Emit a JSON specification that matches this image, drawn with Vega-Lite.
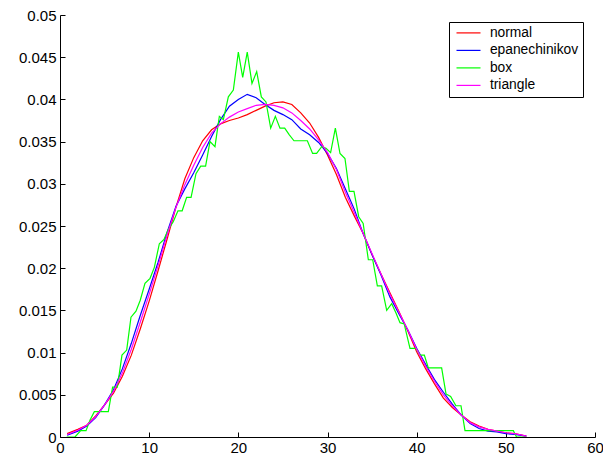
{
  "$schema": "https://vega.github.io/schema/vega-lite/v6.json",
  "width": 535,
  "height": 422,
  "autosize": "none",
  "padding": {"left": 60, "top": 15, "right": 8, "bottom": 22},
  "background": "white",
  "config": {
    "view": {"stroke": null},
    "axis": {
      "domainColor": "black", "tickColor": "black", "labelColor": "black",
      "labelFont": "Liberation Sans", "labelFontSize": 15, "grid": false,
      "tickSize": -5, "domainWidth": 1, "tickWidth": 1, "title": null
    }
  },
  "data": {"values": [
    {"kernel":"normal","x":0.8,"y":0.0004},{"kernel":"normal","x":2,"y":0.0009},{"kernel":"normal","x":3,"y":0.0014},{"kernel":"normal","x":4,"y":0.0025},{"kernel":"normal","x":5,"y":0.0038},{"kernel":"normal","x":6,"y":0.0052},{"kernel":"normal","x":7,"y":0.0072},{"kernel":"normal","x":8,"y":0.0097},{"kernel":"normal","x":9,"y":0.0128},{"kernel":"normal","x":10,"y":0.0161},{"kernel":"normal","x":11,"y":0.0197},{"kernel":"normal","x":12,"y":0.0234},{"kernel":"normal","x":13,"y":0.0272},{"kernel":"normal","x":14,"y":0.0306},{"kernel":"normal","x":15,"y":0.0331},{"kernel":"normal","x":16,"y":0.0351},{"kernel":"normal","x":17,"y":0.0364},{"kernel":"normal","x":18,"y":0.0371},{"kernel":"normal","x":19,"y":0.0375},{"kernel":"normal","x":20,"y":0.0378},{"kernel":"normal","x":21,"y":0.0382},{"kernel":"normal","x":22,"y":0.0387},{"kernel":"normal","x":23,"y":0.0392},{"kernel":"normal","x":24,"y":0.0396},{"kernel":"normal","x":25,"y":0.0397},{"kernel":"normal","x":26,"y":0.0394},{"kernel":"normal","x":27,"y":0.0384},{"kernel":"normal","x":28,"y":0.0372},{"kernel":"normal","x":29,"y":0.0355},{"kernel":"normal","x":30,"y":0.0334},{"kernel":"normal","x":31,"y":0.0311},{"kernel":"normal","x":32,"y":0.0284},{"kernel":"normal","x":33,"y":0.0262},{"kernel":"normal","x":34,"y":0.0241},{"kernel":"normal","x":35,"y":0.0216},{"kernel":"normal","x":36,"y":0.0193},{"kernel":"normal","x":37,"y":0.0171},{"kernel":"normal","x":38,"y":0.0149},{"kernel":"normal","x":39,"y":0.0126},{"kernel":"normal","x":40,"y":0.0101},{"kernel":"normal","x":41,"y":0.0081},{"kernel":"normal","x":42,"y":0.0063},{"kernel":"normal","x":43,"y":0.0046},{"kernel":"normal","x":44,"y":0.0035},{"kernel":"normal","x":45,"y":0.0026},{"kernel":"normal","x":46,"y":0.0018},{"kernel":"normal","x":47,"y":0.0013},{"kernel":"normal","x":48,"y":0.0009},{"kernel":"normal","x":49,"y":0.0007},{"kernel":"normal","x":50,"y":0.0005},{"kernel":"normal","x":51,"y":0.0004},{"kernel":"normal","x":52.3,"y":0.0001},

    {"kernel":"epanechinikov","x":0.8,"y":0.0002},{"kernel":"epanechinikov","x":2,"y":0.0007},{"kernel":"epanechinikov","x":3,"y":0.0013},{"kernel":"epanechinikov","x":4,"y":0.0023},{"kernel":"epanechinikov","x":5,"y":0.0038},{"kernel":"epanechinikov","x":6,"y":0.0056},{"kernel":"epanechinikov","x":7,"y":0.0081},{"kernel":"epanechinikov","x":8,"y":0.0111},{"kernel":"epanechinikov","x":9,"y":0.0144},{"kernel":"epanechinikov","x":10,"y":0.0175},{"kernel":"epanechinikov","x":11,"y":0.0207},{"kernel":"epanechinikov","x":12,"y":0.0242},{"kernel":"epanechinikov","x":13,"y":0.0273},{"kernel":"epanechinikov","x":14,"y":0.0294},{"kernel":"epanechinikov","x":15,"y":0.0313},{"kernel":"epanechinikov","x":16,"y":0.0334},{"kernel":"epanechinikov","x":17,"y":0.0356},{"kernel":"epanechinikov","x":18,"y":0.0376},{"kernel":"epanechinikov","x":19,"y":0.0392},{"kernel":"epanechinikov","x":20,"y":0.0400},{"kernel":"epanechinikov","x":21,"y":0.0406},{"kernel":"epanechinikov","x":22,"y":0.0402},{"kernel":"epanechinikov","x":23,"y":0.0394},{"kernel":"epanechinikov","x":24,"y":0.0387},{"kernel":"epanechinikov","x":25,"y":0.0382},{"kernel":"epanechinikov","x":26,"y":0.0376},{"kernel":"epanechinikov","x":27,"y":0.0365},{"kernel":"epanechinikov","x":28,"y":0.0358},{"kernel":"epanechinikov","x":29,"y":0.0349},{"kernel":"epanechinikov","x":30,"y":0.0336},{"kernel":"epanechinikov","x":31,"y":0.0318},{"kernel":"epanechinikov","x":32,"y":0.0294},{"kernel":"epanechinikov","x":33,"y":0.0270},{"kernel":"epanechinikov","x":34,"y":0.0241},{"kernel":"epanechinikov","x":35,"y":0.0216},{"kernel":"epanechinikov","x":36,"y":0.0192},{"kernel":"epanechinikov","x":37,"y":0.0166},{"kernel":"epanechinikov","x":38,"y":0.0146},{"kernel":"epanechinikov","x":39,"y":0.0127},{"kernel":"epanechinikov","x":40,"y":0.0105},{"kernel":"epanechinikov","x":41,"y":0.0086},{"kernel":"epanechinikov","x":42,"y":0.0068},{"kernel":"epanechinikov","x":43,"y":0.0053},{"kernel":"epanechinikov","x":44,"y":0.0039},{"kernel":"epanechinikov","x":45,"y":0.0026},{"kernel":"epanechinikov","x":46,"y":0.0016},{"kernel":"epanechinikov","x":47,"y":0.0010},{"kernel":"epanechinikov","x":48,"y":0.0007},{"kernel":"epanechinikov","x":49,"y":0.0006},{"kernel":"epanechinikov","x":50,"y":0.0004},{"kernel":"epanechinikov","x":51,"y":0.0003},{"kernel":"epanechinikov","x":52.3,"y":0.0001},

    {"kernel":"box","x":0.75,"y":0},{"kernel":"box","x":1.68,"y":0},{"kernel":"box","x":2.32,"y":0.00075},{"kernel":"box","x":2.92,"y":0.00075},{"kernel":"box","x":3.36,"y":0.002},{"kernel":"box","x":3.85,"y":0.003},{"kernel":"box","x":5.42,"y":0.003},{"kernel":"box","x":5.9,"y":0.0059},{"kernel":"box","x":6.43,"y":0.0059},{"kernel":"box","x":6.95,"y":0.0097},{"kernel":"box","x":7.48,"y":0.0103},{"kernel":"box","x":7.96,"y":0.0142},{"kernel":"box","x":8.52,"y":0.0149},{"kernel":"box","x":9.0,"y":0.0162},{"kernel":"box","x":9.53,"y":0.0182},{"kernel":"box","x":10.1,"y":0.0188},{"kernel":"box","x":10.58,"y":0.0201},{"kernel":"box","x":11.14,"y":0.0229},{"kernel":"box","x":11.66,"y":0.0234},{"kernel":"box","x":12.15,"y":0.0246},{"kernel":"box","x":12.7,"y":0.0255},{"kernel":"box","x":13.23,"y":0.0268},{"kernel":"box","x":13.7,"y":0.0268},{"kernel":"box","x":14.2,"y":0.0284},{"kernel":"box","x":14.7,"y":0.0284},{"kernel":"box","x":15.25,"y":0.0312},{"kernel":"box","x":15.78,"y":0.0321},{"kernel":"box","x":16.33,"y":0.0321},{"kernel":"box","x":16.82,"y":0.035},{"kernel":"box","x":17.38,"y":0.0344},{"kernel":"box","x":17.87,"y":0.038},{"kernel":"box","x":18.32,"y":0.0376},{"kernel":"box","x":18.88,"y":0.0403},{"kernel":"box","x":19.44,"y":0.0411},{"kernel":"box","x":20.0,"y":0.0456},{"kernel":"box","x":20.49,"y":0.0426},{"kernel":"box","x":21.0,"y":0.0456},{"kernel":"box","x":21.53,"y":0.0419},{"kernel":"box","x":22.06,"y":0.0433},{"kernel":"box","x":22.58,"y":0.0403},{"kernel":"box","x":23.1,"y":0.0397},{"kernel":"box","x":23.63,"y":0.0366},{"kernel":"box","x":24.15,"y":0.038},{"kernel":"box","x":24.67,"y":0.0366},{"kernel":"box","x":25.2,"y":0.0366},{"kernel":"box","x":25.72,"y":0.0358},{"kernel":"box","x":26.24,"y":0.0351},{"kernel":"box","x":26.9,"y":0.0351},{"kernel":"box","x":27.74,"y":0.0351},{"kernel":"box","x":28.33,"y":0.0336},{"kernel":"box","x":28.78,"y":0.0336},{"kernel":"box","x":29.35,"y":0.0344},{"kernel":"box","x":29.83,"y":0.0342},{"kernel":"box","x":30.35,"y":0.0337},{"kernel":"box","x":30.88,"y":0.0366},{"kernel":"box","x":31.4,"y":0.0336},{"kernel":"box","x":31.96,"y":0.033},{"kernel":"box","x":32.45,"y":0.0291},{"kernel":"box","x":32.97,"y":0.0291},{"kernel":"box","x":33.5,"y":0.0261},{"kernel":"box","x":34.0,"y":0.0253},{"kernel":"box","x":34.58,"y":0.021},{"kernel":"box","x":35.07,"y":0.021},{"kernel":"box","x":35.59,"y":0.0179},{"kernel":"box","x":36.07,"y":0.0179},{"kernel":"box","x":36.64,"y":0.015},{"kernel":"box","x":37.2,"y":0.0158},{"kernel":"box","x":37.68,"y":0.0147},{"kernel":"box","x":38.13,"y":0.01355},{"kernel":"box","x":38.6,"y":0.0134},{"kernel":"box","x":39.25,"y":0.0105},{"kernel":"box","x":39.92,"y":0.0105},{"kernel":"box","x":40.37,"y":0.0097},{"kernel":"box","x":40.86,"y":0.0097},{"kernel":"box","x":41.3,"y":0.0082},{"kernel":"box","x":42.8,"y":0.0082},{"kernel":"box","x":43.29,"y":0.0051},{"kernel":"box","x":43.81,"y":0.0048},{"kernel":"box","x":44.4,"y":0.0037},{"kernel":"box","x":44.97,"y":0.0037},{"kernel":"box","x":45.42,"y":0.00075},{"kernel":"box","x":50.84,"y":0.00075},{"kernel":"box","x":51.2,"y":0},{"kernel":"box","x":52.3,"y":0},

    {"kernel":"triangle","x":0.8,"y":0.0003},{"kernel":"triangle","x":2,"y":0.0008},{"kernel":"triangle","x":3,"y":0.0014},{"kernel":"triangle","x":4,"y":0.0024},{"kernel":"triangle","x":5,"y":0.0038},{"kernel":"triangle","x":6,"y":0.0054},{"kernel":"triangle","x":7,"y":0.0076},{"kernel":"triangle","x":8,"y":0.0104},{"kernel":"triangle","x":9,"y":0.0136},{"kernel":"triangle","x":10,"y":0.0169},{"kernel":"triangle","x":11,"y":0.0203},{"kernel":"triangle","x":12,"y":0.0239},{"kernel":"triangle","x":13,"y":0.0272},{"kernel":"triangle","x":14,"y":0.0299},{"kernel":"triangle","x":15,"y":0.0322},{"kernel":"triangle","x":16,"y":0.0343},{"kernel":"triangle","x":17,"y":0.0360},{"kernel":"triangle","x":18,"y":0.0371},{"kernel":"triangle","x":19,"y":0.0379},{"kernel":"triangle","x":20,"y":0.0385},{"kernel":"triangle","x":21,"y":0.0389},{"kernel":"triangle","x":22,"y":0.0393},{"kernel":"triangle","x":23,"y":0.0394},{"kernel":"triangle","x":24,"y":0.0393},{"kernel":"triangle","x":25,"y":0.0390},{"kernel":"triangle","x":26,"y":0.0384},{"kernel":"triangle","x":27,"y":0.0375},{"kernel":"triangle","x":28,"y":0.0365},{"kernel":"triangle","x":29,"y":0.0352},{"kernel":"triangle","x":30,"y":0.0337},{"kernel":"triangle","x":31,"y":0.0317},{"kernel":"triangle","x":32,"y":0.0290},{"kernel":"triangle","x":33,"y":0.0266},{"kernel":"triangle","x":34,"y":0.0241},{"kernel":"triangle","x":35,"y":0.0217},{"kernel":"triangle","x":36,"y":0.0193},{"kernel":"triangle","x":37,"y":0.0169},{"kernel":"triangle","x":38,"y":0.0148},{"kernel":"triangle","x":39,"y":0.0127},{"kernel":"triangle","x":40,"y":0.0104},{"kernel":"triangle","x":41,"y":0.0084},{"kernel":"triangle","x":42,"y":0.0066},{"kernel":"triangle","x":43,"y":0.0050},{"kernel":"triangle","x":44,"y":0.0037},{"kernel":"triangle","x":45,"y":0.0026},{"kernel":"triangle","x":46,"y":0.0017},{"kernel":"triangle","x":47,"y":0.0012},{"kernel":"triangle","x":48,"y":0.0009},{"kernel":"triangle","x":49,"y":0.0007},{"kernel":"triangle","x":50,"y":0.0005},{"kernel":"triangle","x":51,"y":0.0004},{"kernel":"triangle","x":52.3,"y":0.0001}
  ]},
  "mark": {"type": "line", "strokeWidth": 1.2, "clip": true},
  "encoding": {
    "x": {"field": "x", "type": "quantitative",
      "scale": {"domain": [0, 60], "nice": false, "zero": false},
      "axis": {"values": [0,10,20,30,40,50,60], "labelFlush": false, "labelOverlap": false, "labelPadding": 8}},
    "y": {"field": "y", "type": "quantitative",
      "scale": {"domain": [0, 0.05], "nice": false},
      "axis": {"values": [0,0.005,0.01,0.015,0.02,0.025,0.03,0.035,0.04,0.045,0.05], "format": "~g", "labelFlush": false, "labelOverlap": false, "labelPadding": 9}},
    "color": {"field": "kernel", "type": "nominal",
      "scale": {"domain": ["normal","epanechinikov","box","triangle"], "range": ["#ff0000","#0000ff","#00ff00","#ff00ff"]},
      "legend": {
        "title": null, "orient": "none", "legendX": 389, "legendY": 7,
        "strokeColor": "black", "fillColor": "white", "padding": 4,
        "symbolType": "M-3,0H3", "symbolSize": 64, "symbolStrokeWidth": 1.2,
        "symbolOffset": 8.6, "labelOffset": 14.5,
        "labelFont": "Liberation Sans", "labelFontSize": 13.8, "labelColor": "black",
        "rowPadding": 2.5
      }},
    "order": {"field": "x", "type": "quantitative"}
  }
}
